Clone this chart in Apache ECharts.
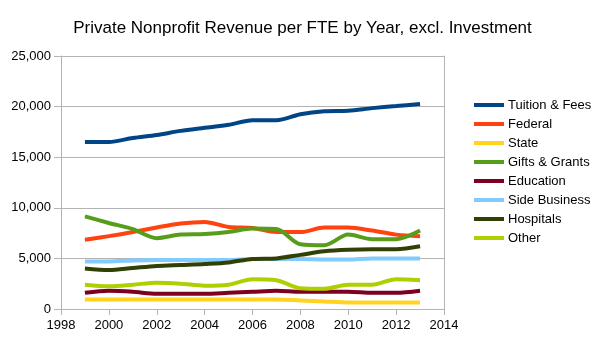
<!DOCTYPE html>
<html><head><meta charset="utf-8">
<script src="https://cdn.jsdelivr.net/npm/echarts@6/dist/echarts.min.js"></script>
<style>html,body{margin:0;padding:0;background:#fff}#c{width:605px;height:340px}</style>
</head><body><div id="c"></div>
<script>
const years = [1999,2000,2001,2002,2003,2004,2005,2006,2007,2008,2009,2010,2011,2012,2013];
const tuition = [16500,16500,16900,17200,17600,17900,18200,18650,18650,19250,19550,19600,19850,20050,20250];
const federal = [6850,7200,7600,8050,8450,8600,8100,8000,7600,7600,8050,8050,7750,7350,7200];
const state = [950,950,950,950,950,950,950,950,950,850,750,650,650,650,650];
const gifts = [9150,8500,7900,7000,7350,7400,7600,7950,7900,6400,6300,7350,6900,6900,7750];
const education = [1600,1800,1700,1500,1500,1500,1600,1700,1800,1700,1700,1700,1600,1600,1800];
const sideBusiness = [4700,4700,4800,4850,4850,4850,4850,4950,4950,4950,4900,4900,5000,5000,5000];
const hospitals = [4000,3850,4050,4250,4350,4450,4600,4950,5000,5350,5700,5850,5900,5900,6200];
const other = [2400,2250,2400,2600,2500,2300,2400,2950,2850,2050,2000,2400,2400,2950,2850];
const xTicks = {min:1998, max:2014, step:2};
const yTicks = {min:0, max:25000, step:5000};

const names = ['Tuition & Fees','Federal','State','Gifts & Grants','Education','Side Business','Hospitals','Other'];
const values = [tuition,federal,state,gifts,education,sideBusiness,hospitals,other];
const colors = ['#004586','#ff420e','#ffd320','#579d1c','#7e0021','#83caff','#314004','#aecf00'];
const grey = '#b3b3b3';
const font = 'Liberation Sans';

const series = names.map((n,i)=>({
  name:n, type:'line', smooth:0.3, showSymbol:false, symbol:'none',
  data: years.map((y,j)=>[y, values[i][j]]),
  lineStyle:{width:4, color:colors[i]}, itemStyle:{color:colors[i]}
}));

const chart = echarts.init(document.getElementById('c'), null, {renderer:'canvas'});
chart.setOption({
  animation:false,
  backgroundColor:'#fff',
  textStyle:{fontFamily:font},
  title:{text:'Private Nonprofit Revenue per FTE by Year, excl. Investment', left:'center', top:15,
    textStyle:{fontFamily:font, fontSize:17, fontWeight:'normal', color:'#000'}},
  grid:{left:61, right:161, top:56, bottom:31, containLabel:false},
  legend:{orient:'vertical', left:474, top:98.5, padding:0, itemGap:6, itemWidth:30, itemHeight:4, icon:'rect',
    textStyle:{fontFamily:font, fontSize:13, color:'#000', padding:[0,0,0,-1]}, data:names},
  xAxis:{type:'value', min:xTicks.min, max:xTicks.max, interval:xTicks.step,
    axisLine:{show:true, lineStyle:{color:grey}}, axisTick:{show:true, length:6, lineStyle:{color:grey}},
    axisLabel:{formatter:v=>String(v), color:'#000', fontSize:13, fontFamily:font, margin:10},
    splitLine:{show:false}},
  yAxis:[{type:'value', min:yTicks.min, max:yTicks.max, interval:yTicks.step,
    axisLine:{show:true, lineStyle:{color:grey}}, axisTick:{show:true, length:7, lineStyle:{color:grey}},
    axisLabel:{color:'#000', fontSize:13, fontFamily:font, margin:10},
    splitLine:{show:true, lineStyle:{color:grey}}},
   {type:'value', position:'right', min:yTicks.min, max:yTicks.max, interval:yTicks.step,
    axisLine:{show:true, lineStyle:{color:grey}}, axisTick:{show:false}, axisLabel:{show:false}, splitLine:{show:false}}],
  series
});
</script></body></html>
